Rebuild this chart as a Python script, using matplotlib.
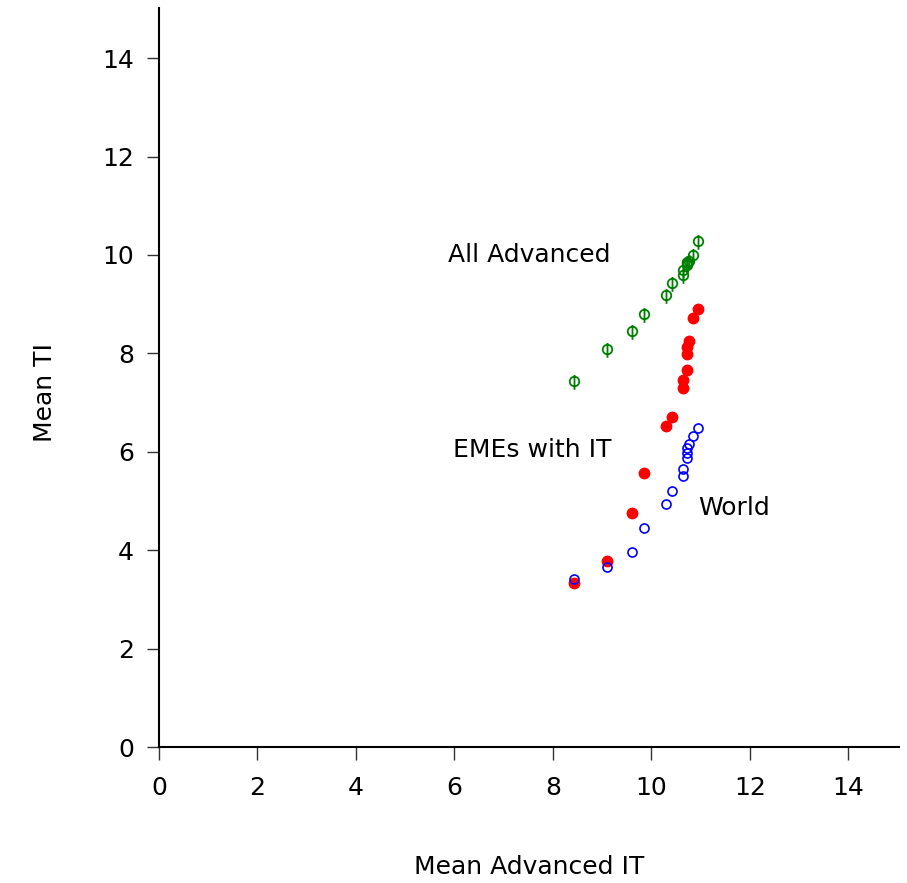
import matplotlib
matplotlib.use("Agg")
import matplotlib.pyplot as plt
from matplotlib.path import Path
import numpy as np

# Data
mean_adv_it = [8.43, 9.10, 9.60, 9.86, 10.31, 10.43, 10.65, 10.65, 10.73, 10.73, 10.73, 10.77, 10.85, 10.94]
ti_all_advanced = [7.43, 8.08, 8.46, 8.81, 9.18, 9.44, 9.59, 9.70, 9.80, 9.84, 9.86, 9.88, 10.00, 10.28]
ti_emes_with_it = [3.33, 3.79, 4.76, 5.56, 6.53, 6.71, 7.29, 7.45, 7.66, 7.99, 8.12, 8.25, 8.71, 8.91]
ti_world = [3.41, 3.66, 3.97, 4.45, 4.93, 5.21, 5.51, 5.66, 5.87, 5.97, 6.07, 6.15, 6.33, 6.49]

series_labels = ["All Advanced", "EMEs with IT", "World"]
label_pos = [(5.87, 9.86), (5.98, 5.90), (10.95, 4.72)]
ticks = [0, 2, 4, 6, 8, 10, 12, 14]

FS = 18

fig = plt.figure(figsize=(9.07, 8.83), dpi=100)
ax = fig.add_axes([0.1753, 0.154, 0.8157, 0.837])

# phi-like marker: circle with vertical stem
circ = Path.circle((0, 0), 1.0)
stem = Path([(0, -1.75), (0, 1.35)], [Path.MOVETO, Path.LINETO])
phi_path = Path.make_compound_path(circ, stem)

ax.plot(mean_adv_it, ti_all_advanced, linestyle="none", marker=phi_path,
        markersize=12, markerfacecolor="none", markeredgecolor="#008000",
        markeredgewidth=1.3, zorder=3)
ax.plot(mean_adv_it, ti_emes_with_it, linestyle="none", marker="o",
        markersize=7.5, markerfacecolor="#ff0000", markeredgecolor="#ff0000",
        markeredgewidth=1.0, zorder=3)
ax.plot(mean_adv_it, ti_world, linestyle="none", marker="o",
        markersize=6.5, markerfacecolor="none", markeredgecolor="#0000ff",
        markeredgewidth=1.2, zorder=3)

for lab, (lx, ly) in zip(series_labels, label_pos):
    ax.text(lx, ly, lab, fontsize=FS, ha="left", va="baseline", color="black")

ax.set_xlim(0, 15.03)
ax.set_ylim(0, 15.02)
ax.set_xticks(ticks)
ax.set_yticks(ticks)
ax.set_xticklabels([str(t) for t in ticks])
ax.set_yticklabels([str(t) for t in ticks])

for s in ["top", "right"]:
    ax.spines[s].set_visible(False)
for s in ["left", "bottom"]:
    ax.spines[s].set_linewidth(1.5)
    ax.spines[s].set_color("black")

ax.tick_params(axis="x", direction="out", length=9, width=1, color="#333333",
               labelsize=FS, pad=12)
ax.tick_params(axis="y", direction="out", length=9, width=1, color="#333333",
               labelsize=FS, pad=9)

ax.set_xlabel("Mean Advanced IT", fontsize=FS)
ax.set_ylabel("Mean TI", fontsize=FS)
ax.xaxis.set_label_coords(0.5, -0.172)
ax.xaxis.label.set_va("baseline")
ax.yaxis.set_label_coords(-0.1446, 0.48)
ax.yaxis.label.set_va("baseline")
ax.yaxis.label.set_rotation_mode("anchor")

fig.savefig("out.png", dpi=100)
